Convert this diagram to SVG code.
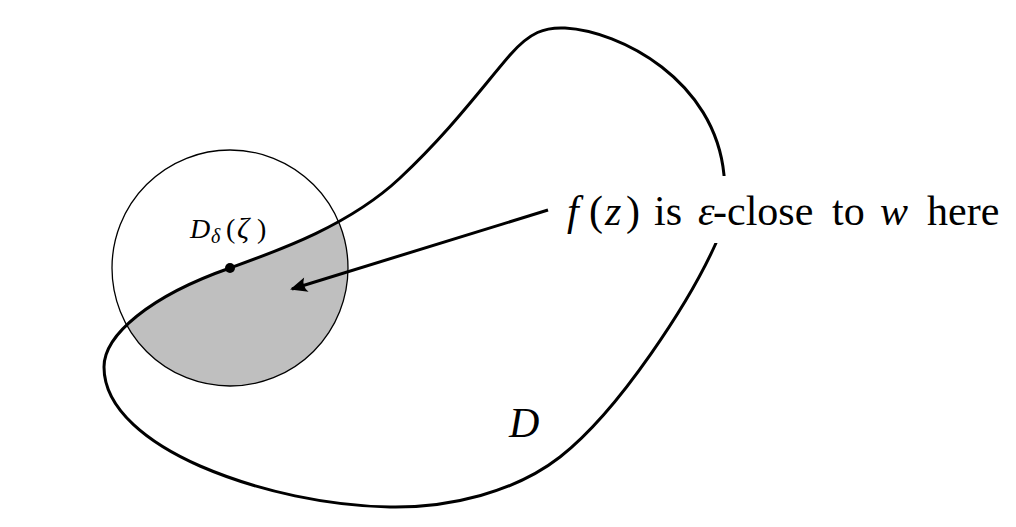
<svg xmlns="http://www.w3.org/2000/svg" width="1016" height="527" viewBox="0 0 1016 527">
<style>
.curve{fill:none;stroke:#000;stroke-width:3;stroke-linejoin:round}
.circ{fill:none;stroke:#000;stroke-width:1.3}
.shade{fill:#bfbfbf;stroke:none}
.arrow{fill:none;stroke:#000;stroke-width:3}
.i{font-style:italic}
</style>
<defs>
<path id="dpath" d="M230,268 C280,250 350,225 400,178 C450,131 480,90 510,55 C530,32 545,27 565,28 C620,31 715,80 724,175 C727,205 724,225 716,243 C690,301 620,410 560,457 C515,492 450,508 390,507 C330,506 260,492 200,466 C150,444 104,410 104,367 C104,335 150,296 230,268 Z"/>
<clipPath id="dclip"><use href="#dpath"/></clipPath>
<marker id="head" viewBox="-18 -10 22 20" refX="0" refY="0" markerWidth="22" markerHeight="20" markerUnits="userSpaceOnUse" orient="auto">
<path d="M2,0 L-15,-7.5 Q-10,0 -15,7.5 Z" fill="#000"/>
</marker>
</defs>
<g id="disk">
<circle class="shade" cx="230" cy="268" r="118" clip-path="url(#dclip)"/>
<circle class="circ" cx="230" cy="268" r="118"/>
</g>
<g id="domain">
<use href="#dpath" class="curve"/>
</g>
<g id="connectors">
<line class="arrow" x1="548" y1="210" x2="292" y2="289" marker-end="url(#head)"/>
</g>
<g id="zeta">
<circle cx="230" cy="268" r="5" fill="#000"/>
<text font-family="Liberation Serif, Times New Roman, serif" y="238" font-size="28"><tspan class="i" x="190">D</tspan><tspan class="i" x="211" y="243" font-size="20">δ</tspan><tspan x="226" y="238">(</tspan><tspan class="i" x="237" font-size="30">ζ</tspan><tspan x="257">)</tspan></text>
</g>
<g id="label">
<rect x="553" y="176" width="455" height="67" fill="#fff"/>
<text font-family="Liberation Serif, Times New Roman, serif" y="225" font-size="42"><tspan class="i" x="567">f</tspan><tspan x="589">(</tspan><tspan class="i" x="605">z</tspan><tspan x="626">)</tspan><tspan x="654">is</tspan><tspan class="i" x="698">ε</tspan><tspan x="713">-close</tspan><tspan x="832">to</tspan><tspan class="i" x="880">w</tspan><tspan x="927">here</tspan></text>
</g>
<g id="dlabel">
<text font-family="Liberation Serif, Times New Roman, serif" class="i" x="509" y="437" font-size="42">D</text>
</g>
</svg>
